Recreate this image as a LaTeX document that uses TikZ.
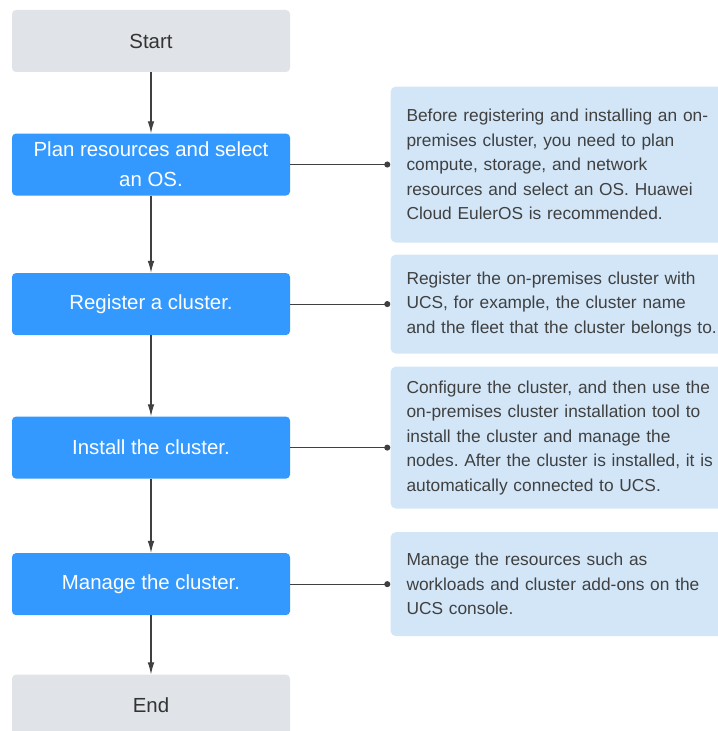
\documentclass[tikz,border=0pt]{standalone}
\usepackage{fontspec}
\setmainfont{Liberation Sans}
\usetikzlibrary{positioning, arrows.meta}
\definecolor{stepblue}{RGB}{51,153,255}
\definecolor{termgray}{RGB}{224,227,231}
\definecolor{termtext}{RGB}{51,51,51}
\definecolor{noteblue}{RGB}{210,230,248}
\definecolor{notetext}{RGB}{64,64,64}
\definecolor{linegray}{RGB}{64,64,64}
\frenchspacing

\begin{document}
\begin{tikzpicture}[x=0.75pt, y=-0.75pt]
\tikzstyle{main}=[rectangle, rounded corners=3pt, minimum width=208.5pt, minimum height=46.5pt, inner sep=2pt, align=center, font=\fontsize{15.3}{22.5}\selectfont]
\tikzstyle{term}=[main, fill=termgray, text=termtext]
\tikzstyle{stepbox}=[main, fill=stepblue, text=white]
\tikzstyle{note}=[rectangle, rounded corners=4pt, fill=noteblue, text=notetext, text width=235pt, inner xsep=12pt, inner ysep=2pt, align=left, font=\fontsize{13}{18.4}\selectfont]
\tikzstyle{connect}=[-{Latex[length=9pt, width=5pt]}, line width=0.8pt, draw=linegray]
\tikzstyle{link}=[-{Circle[length=4.5pt]}, line width=0.8pt, draw=linegray]
    \useasboundingbox (0,0) rectangle (717,731);
    % flow
    \node[term] (start) at (151,41) {Start};
    \node[stepbox] (plan) [below=45.75pt of start] {Plan resources and select\\an OS.};
    \node[stepbox] (register) [below=57.75pt of plan] {Register a cluster.};
    \node[stepbox] (install) [below=60.75pt of register] {Install the cluster.};
    \node[stepbox] (manage) [below=55.5pt of install] {Manage the cluster.};
    \node[term] (end) [below=44.25pt of manage] {End};
    % notes
    \node[note, minimum height=117pt] (note1) [right=75pt of plan] {Before registering and installing an on-\\premises cluster, you need to plan\\compute, storage, and network\\resources and select an OS. Huawei\\Cloud EulerOS is recommended.};
    \node[note, minimum height=74.25pt] (note2) [right=75pt of register] {Register the on-premises cluster with\\UCS, for example, the cluster name\\and the fleet that the cluster belongs to.};
    \node[note, minimum height=106.5pt] (note3) [right=75pt of install, yshift=7.5pt] {Configure the cluster, and then use the\\on-premises cluster installation tool to\\install the cluster and manage the\\nodes. After the cluster is installed, it is\\automatically connected to UCS.};
    \node[note, minimum height=78pt] (note4) [right=75pt of manage] {Manage the resources such as\\workloads and cluster add-ons on the\\UCS console.};
    \draw[connect] (start) -- (plan);
    \draw[connect] (plan) -- (register);
    \draw[connect] (register) -- (install);
    \draw[connect] (install) -- (manage);
    \draw[connect] (manage) -- (end);
    \draw[link] (plan.east) -- (plan.east -| note1.west);
    \draw[link] (register.east) -- (register.east -| note2.west);
    \draw[link] (install.east) -- (install.east -| note3.west);
    \draw[link] (manage.east) -- (manage.east -| note4.west);
\end{tikzpicture}
\end{document}
